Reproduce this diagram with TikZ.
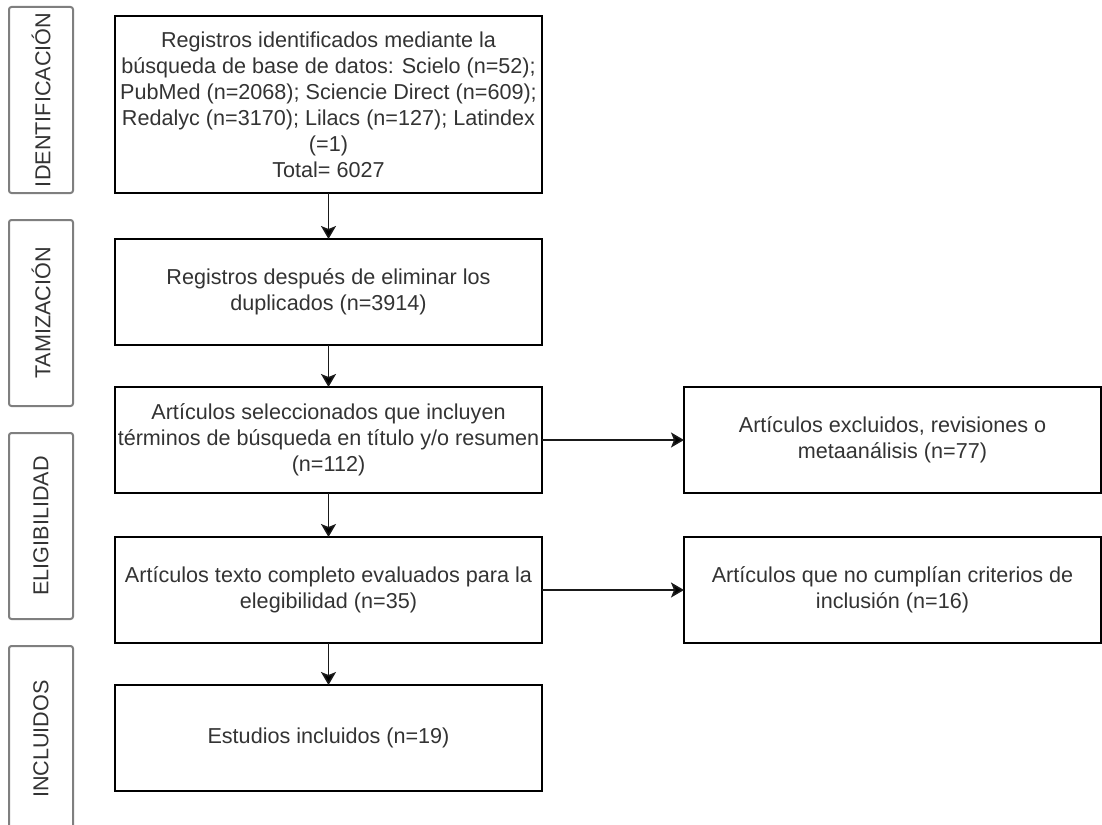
\documentclass[tikz,border=0pt]{standalone}
\usepackage{fontspec}
\setmainfont{Liberation Sans}
\usepackage{graphicx}
\usepackage{tikz}
\usetikzlibrary{positioning}
\usetikzlibrary{arrows.meta}
\definecolor{txtgray}{HTML}{333333}
\definecolor{sidegray}{HTML}{7F7F7F}
\definecolor{linegray}{HTML}{1A1A1A}

\begin{document}
\begin{tikzpicture}
    [x=1pt, y=-1pt,
     box/.style={rectangle, draw=black, line width=1.6pt, outer sep=0pt, minimum width=427pt, minimum height=106pt,
                 align=center, inner sep=0pt, text=txtgray, font=\fontsize{21.6}{26}\selectfont},
     exbox/.style={box, minimum width=417pt},
     side/.style={rectangle, draw=sidegray, line width=2pt, rounded corners=2.5pt, outer sep=0pt, inner sep=0pt,
                  minimum width=64pt, minimum height=186pt, text=txtgray, font=\fontsize{21.6}{26}\selectfont},
     arr/.style={-{Stealth[length=13pt, width=15pt, inset=3pt]}, draw=linegray, line width=1.6pt}]

    \useasboundingbox (0,0) rectangle (1102,824);

    % fases
    \node [side, anchor=north west] (ident) at (9,7) {\rotatebox{90}{IDENTIFICACIÓN}};
    \node [side, below=27pt of ident] (tamiz) {\rotatebox{90}{TAMIZACIÓN}};
    \node [side, below=27pt of tamiz] (eleg) {\rotatebox{90}{ELIGIBILIDAD}};
    \node [side, below=27pt of eleg] (incl) {\rotatebox{90}{INCLUIDOS}};

    % flujo principal
    \node [box, anchor=north west, minimum height=177pt] (reg) at (115,16) {
    Registros identificados mediante la\\
    búsqueda de base de datos: Scielo (n=52);\\
    PubMed (n=2068); Sciencie Direct (n=609);\\
    Redalyc (n=3170); Lilacs (n=127); Latindex\\
    (=1)\\
    Total= 6027};
    \node [box, below=46pt of reg] (dup) {Registros después de eliminar los\\ duplicados (n=3914)};
    \node [box, below=42pt of dup] (sel) {Artículos seleccionados que incluyen\\ términos de búsqueda en título y/o resumen\\ (n=112)};
    \node [box, below=44pt of sel] (txt) {Artículos texto completo evaluados para la\\ elegibilidad (n=35)};
    \node [box, below=42pt of txt] (est) {Estudios incluidos (n=19)};

    % excluidos
    \node [exbox, right=142pt of sel] (exc) {Artículos excluidos, revisiones o\\ metaanálisis (n=77)};
    \node [exbox, right=142pt of txt] (nocr) {Artículos que no cumplían criterios de\\ inclusión (n=16)};

    \path [arr] (reg) edge (dup);
    \path [arr] (dup) edge (sel);
    \path [arr] (sel) edge (txt);
    \path [arr] (txt) edge (est);
    \path [arr] (sel) edge (exc);
    \path [arr] (txt) edge (nocr);
\end{tikzpicture}
\end{document}
